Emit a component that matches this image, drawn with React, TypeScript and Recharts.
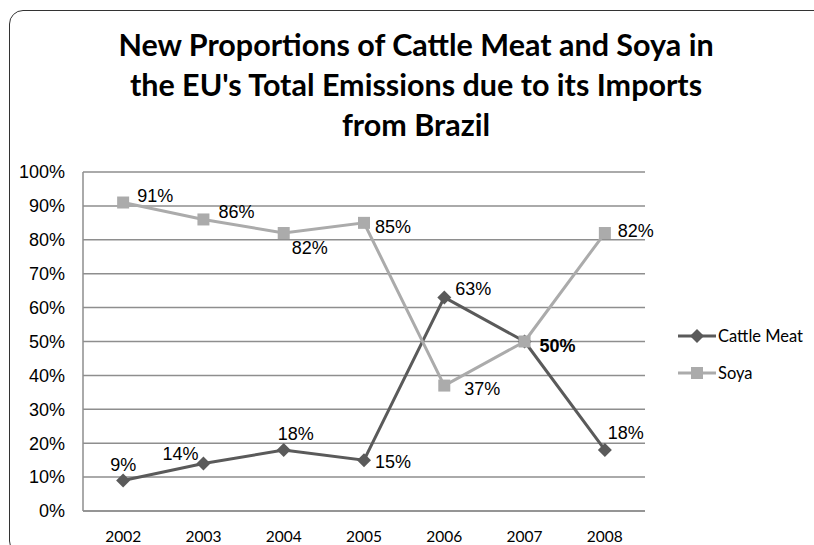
import React from 'react';
import { LineChart, Line, XAxis, YAxis, CartesianGrid, LabelList } from 'recharts';

const years = ['2002', '2003', '2004', '2005', '2006', '2007', '2008'];
const cattleMeat = [0.09, 0.14, 0.18, 0.15, 0.63, 0.5, 0.18];
const soya = [0.91, 0.86, 0.82, 0.85, 0.37, 0.5, 0.82];
const yTicks = [0, 0.1, 0.2, 0.3, 0.4, 0.5, 0.6, 0.7, 0.8, 0.9, 1];

// label nudges (center offset from the point), index-matched to years
const cattleLabelPos = [
  [0, -15], [-23, -10], [12, -16], [29, 2], [29, -8], [33, 4], [21, -17],
];
const soyaLabelPos = [
  [32, -7], [33, -7], [26, 15], [29, 4], [38, 3], null, [31, -2],
];

const CATTLE = '#5a5a5a';
const SOYA = '#ababab';
const GRID = '#8e8e8e';

const data = years.map((y, i) => ({ year: y, cattle: cattleMeat[i], soya: soya[i] }));

const pct = (v: number) => `${Math.round(v * 100)}%`;

const makeLabel = (pos: (number[] | null)[], boldIndex: number) => (props: any) => {
  const { x, y, value, index } = props;
  const p = pos[index];
  if (!p) return null;
  return (
    <text
      x={x + p[0]}
      y={y + p[1]}
      textAnchor="middle"
      dominantBaseline="central"
      fontFamily="'Liberation Sans', Arial, sans-serif"
      fontSize={18}
      fontWeight={index === boldIndex ? 'bold' : 'normal'}
      fill="#000"
    >
      {pct(value)}
    </text>
  );
};

const Diamond = (props: any) => {
  const { cx, cy } = props;
  if (cx == null || cy == null) return null;
  const r = 7;
  return <path d={`M${cx},${cy - r}L${cx + r},${cy}L${cx},${cy + r}L${cx - r},${cy}Z`} fill={CATTLE} />;
};

const Square = (props: any) => {
  const { cx, cy } = props;
  if (cx == null || cy == null) return null;
  const s = 6;
  return <rect x={cx - s} y={cy - s} width={s * 2} height={s * 2} fill={SOYA} />;
};

const LegendBox = () => (
  <div style={{ position: 'absolute', left: 678, top: 324, fontFamily: 'Lato, sans-serif', fontSize: 16.5 }}>
    {[
      { name: 'Cattle Meat', color: CATTLE, diamond: true },
      { name: 'Soya', color: SOYA, diamond: false },
    ].map((it, i) => (
      <div key={i} style={{ display: 'flex', alignItems: 'center', height: 24, marginBottom: 13 }}>
        <svg width={38} height={16}>
          <line x1={0} y1={8} x2={38} y2={8} stroke={it.color} strokeWidth={3} />
          {it.diamond ? (
            <path d="M19,1L26,8L19,15L12,8Z" fill={it.color} />
          ) : (
            <rect x={13} y={2} width={12} height={12} fill={it.color} />
          )}
        </svg>
        <span style={{ marginLeft: 2 }}>{it.name}</span>
      </div>
    ))}
  </div>
);

export default function App() {
  return (
    <div style={{ position: 'absolute', left: 0, top: 0, width: 814, height: 545, overflow: 'hidden', background: '#fff' }}>
      <div
        style={{
          position: 'absolute', left: 9, top: 10, width: 860, height: 545,
          border: '1.5px solid #333', borderRadius: 14, boxSizing: 'border-box',
        }}
      />
      <div
        style={{
          position: 'absolute', left: 9, top: 24, width: 814, textAlign: 'center',
          fontFamily: 'Lato, sans-serif', fontWeight: 'bold', fontSize: 30.5, lineHeight: '40px', color: '#000',
        }}
      >
        New Proportions of Cattle Meat and Soya in<br />
        the EU's Total Emissions due to its Imports<br />
        from Brazil
      </div>
      <div style={{ position: 'absolute', left: 0, top: 0 }}>
        <LineChart width={814} height={545} data={data} margin={{ top: 172, right: 169, bottom: 0, left: 0 }}>
          <CartesianGrid vertical={false} stroke={GRID} strokeWidth={1.5} />
          <XAxis
            dataKey="year"
            scale="band"
            height={34}
            tickLine={false}
            axisLine={{ stroke: GRID, strokeWidth: 1.5 }}
            tickMargin={14}
            tick={{ fill: '#000', fontSize: 15.5, fontFamily: 'Lato, sans-serif' }}
          />
          <YAxis
            width={83}
            domain={[0, 1]}
            ticks={yTicks}
            tickFormatter={pct}
            tickLine={false}
            axisLine={{ stroke: GRID, strokeWidth: 1.5 }}
            tickMargin={12}
            tick={{ fill: '#000', fontSize: 18, fontFamily: "'Liberation Sans', Arial, sans-serif" }}
          />
          <Line
            dataKey="cattle"
            stroke={CATTLE}
            strokeWidth={3}
            dot={<Diamond />}
            activeDot={false}
            isAnimationActive={false}
          >
            <LabelList dataKey="cattle" content={makeLabel(cattleLabelPos, 5)} />
          </Line>
          <Line
            dataKey="soya"
            stroke={SOYA}
            strokeWidth={3}
            dot={<Square />}
            activeDot={false}
            isAnimationActive={false}
          >
            <LabelList dataKey="soya" content={makeLabel(soyaLabelPos, -1)} />
          </Line>
        </LineChart>
      </div>
      <LegendBox />
    </div>
  );
}
